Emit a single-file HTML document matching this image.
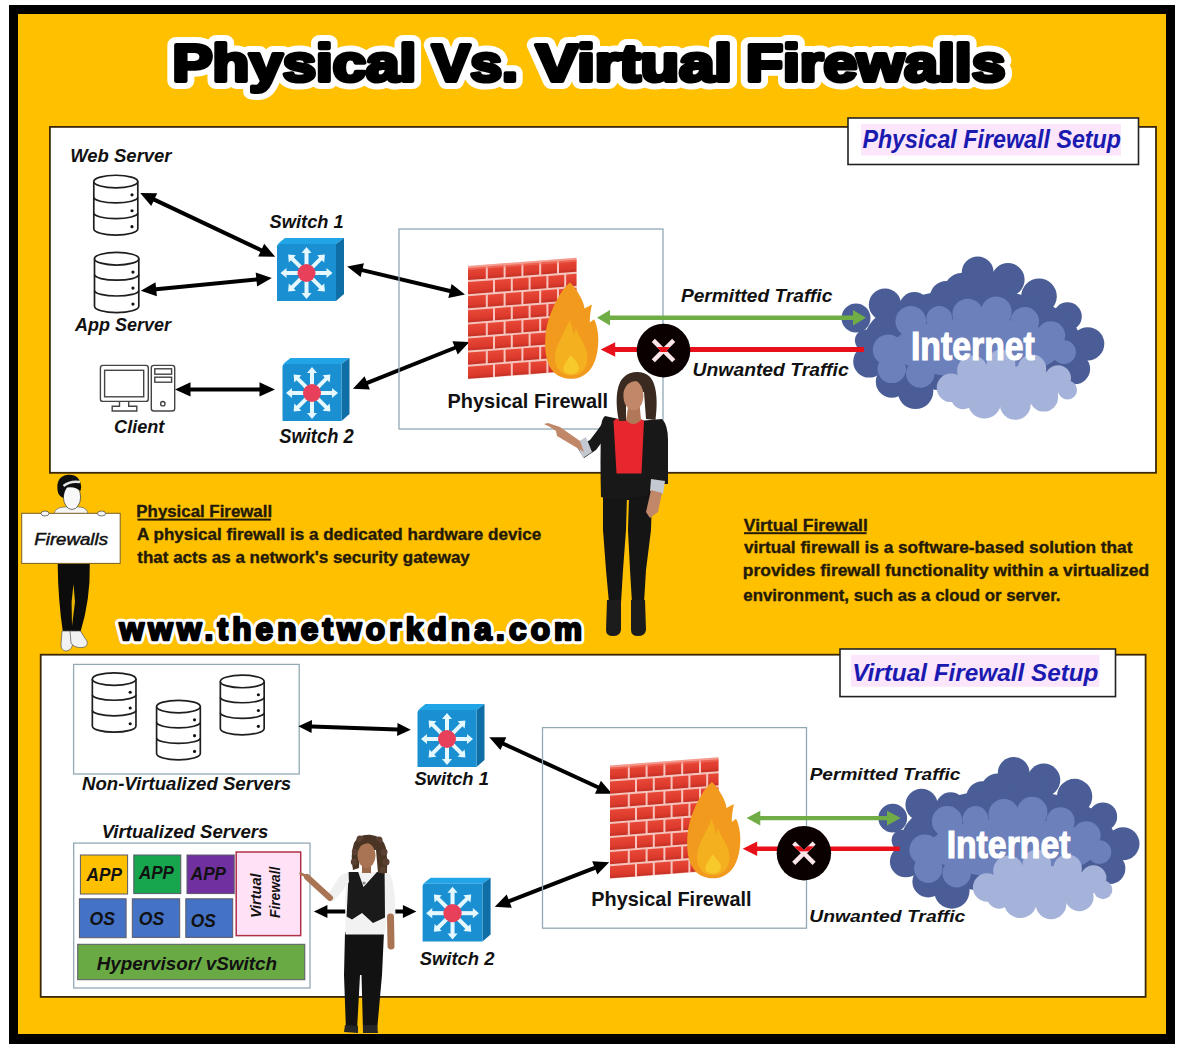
<!DOCTYPE html>
<html><head><meta charset="utf-8">
<style>
html,body{margin:0;padding:0;background:#fff;width:1179px;height:1044px;overflow:hidden}
svg{display:block}
text{font-family:"Liberation Sans",sans-serif}
.bi{font-weight:bold;font-style:italic}
.b{font-weight:bold}
.i{font-style:italic}
</style></head><body>
<svg width="1179" height="1044" viewBox="0 0 1179 1044">
<defs>
<!-- database icon 46x62 -->
<symbol id="db" viewBox="0 0 46 62" overflow="visible">
 <g fill="#fff" stroke="#1e1e1e" stroke-width="1.7">
  <path d="M0.85 7.2 V54.8 A22.15 6.35 0 0 0 45.15 54.8 V7.2"/>
  <ellipse cx="23" cy="7.2" rx="22.15" ry="6.35"/>
  <path d="M0.85 23.1 A22.15 5.6 0 0 0 45.15 23.1" fill="none"/>
  <path d="M0.85 38.9 A22.15 5.6 0 0 0 45.15 38.9" fill="none"/>
 </g>
 <g fill="#111"><circle cx="39.3" cy="20.6" r="1.6"/><circle cx="39.3" cy="36.6" r="1.6"/><circle cx="39.3" cy="52.6" r="1.6"/></g>
</symbol>
<!-- switch icon 67 x 63 -->
<symbol id="sw" viewBox="0 0 67 63" overflow="visible">
 <path d="M0 9 Q0 6 3 4 L8 0 H67 L59 6 H2 Z" fill="#22a5e6"/>
 <path d="M59 6 L67 0 V56 L59 63 Z" fill="#0f6ea6"/>
 <path d="M0 9 Q0 6 3 6 H59 V63 H0 Z" fill="#1a90d2"/>
 <g fill="#e6f8ff" id="arr">
  <g id="a1"><rect x="27.5" y="13" width="4" height="20"/><path d="M29.5 9 L34.5 15 H24.5 Z"/></g>
  <use href="#a1" transform="rotate(45 29.5 35)"/>
  <use href="#a1" transform="rotate(90 29.5 35)"/>
  <use href="#a1" transform="rotate(135 29.5 35)"/>
  <use href="#a1" transform="rotate(180 29.5 35)"/>
  <use href="#a1" transform="rotate(225 29.5 35)"/>
  <use href="#a1" transform="rotate(270 29.5 35)"/>
  <use href="#a1" transform="rotate(315 29.5 35)"/>
 </g>
 <circle cx="29.5" cy="35" r="9" fill="#e8405a"/>
</symbol>
<!-- firewall: wall + flame, local 0..132 x 0..122 -->
<linearGradient id="bg" x1="0" y1="0" x2="0" y2="1"><stop offset="0" stop-color="#e84838"/><stop offset="0.7" stop-color="#dc3a2c"/><stop offset="1" stop-color="#c23024"/></linearGradient>
<pattern id="brick" width="36" height="28" patternUnits="userSpaceOnUse" x="0" y="8.5">
 <rect width="36" height="28" fill="#f7cbc4"/>
 <rect x="2" y="2" width="16" height="12" fill="url(#bg)"/>
 <rect x="20" y="2" width="16" height="12" fill="url(#bg)"/>
 <rect x="0" y="16" width="9" height="12" fill="url(#bg)"/>
 <rect x="11" y="16" width="16" height="12" fill="url(#bg)"/>
 <rect x="29" y="16" width="7" height="12" fill="url(#bg)"/>
</pattern>
<symbol id="fw" viewBox="0 0 132 122" overflow="visible">
 <g transform="skewY(-4.4)">
<rect x="0" y="8.5" width="108.5" height="113.3" fill="#f6c4bc"/>
<rect x="0.0" y="10.5" width="17.8" height="12.1" fill="url(#bg)"/>
<rect x="19.8" y="10.5" width="15.8" height="12.1" fill="url(#bg)"/>
<rect x="37.6" y="10.5" width="15.8" height="12.1" fill="url(#bg)"/>
<rect x="55.4" y="10.5" width="15.8" height="12.1" fill="url(#bg)"/>
<rect x="73.2" y="10.5" width="15.8" height="12.1" fill="url(#bg)"/>
<rect x="91.0" y="10.5" width="17.5" height="12.1" fill="url(#bg)"/>
<rect x="0.0" y="24.6" width="25.0" height="12.1" fill="url(#bg)"/>
<rect x="27.0" y="24.6" width="15.8" height="12.1" fill="url(#bg)"/>
<rect x="44.8" y="24.6" width="15.8" height="12.1" fill="url(#bg)"/>
<rect x="62.6" y="24.6" width="15.8" height="12.1" fill="url(#bg)"/>
<rect x="80.4" y="24.6" width="15.8" height="12.1" fill="url(#bg)"/>
<rect x="98.2" y="24.6" width="10.3" height="12.1" fill="url(#bg)"/>
<rect x="0.0" y="38.7" width="17.8" height="12.1" fill="url(#bg)"/>
<rect x="19.8" y="38.7" width="15.8" height="12.1" fill="url(#bg)"/>
<rect x="37.6" y="38.7" width="15.8" height="12.1" fill="url(#bg)"/>
<rect x="55.4" y="38.7" width="15.8" height="12.1" fill="url(#bg)"/>
<rect x="73.2" y="38.7" width="15.8" height="12.1" fill="url(#bg)"/>
<rect x="91.0" y="38.7" width="17.5" height="12.1" fill="url(#bg)"/>
<rect x="0.0" y="52.8" width="25.0" height="12.1" fill="url(#bg)"/>
<rect x="27.0" y="52.8" width="15.8" height="12.1" fill="url(#bg)"/>
<rect x="44.8" y="52.8" width="15.8" height="12.1" fill="url(#bg)"/>
<rect x="62.6" y="52.8" width="15.8" height="12.1" fill="url(#bg)"/>
<rect x="80.4" y="52.8" width="15.8" height="12.1" fill="url(#bg)"/>
<rect x="98.2" y="52.8" width="10.3" height="12.1" fill="url(#bg)"/>
<rect x="0.0" y="66.9" width="17.8" height="12.1" fill="url(#bg)"/>
<rect x="19.8" y="66.9" width="15.8" height="12.1" fill="url(#bg)"/>
<rect x="37.6" y="66.9" width="15.8" height="12.1" fill="url(#bg)"/>
<rect x="55.4" y="66.9" width="15.8" height="12.1" fill="url(#bg)"/>
<rect x="73.2" y="66.9" width="15.8" height="12.1" fill="url(#bg)"/>
<rect x="91.0" y="66.9" width="17.5" height="12.1" fill="url(#bg)"/>
<rect x="0.0" y="81.0" width="25.0" height="12.1" fill="url(#bg)"/>
<rect x="27.0" y="81.0" width="15.8" height="12.1" fill="url(#bg)"/>
<rect x="44.8" y="81.0" width="15.8" height="12.1" fill="url(#bg)"/>
<rect x="62.6" y="81.0" width="15.8" height="12.1" fill="url(#bg)"/>
<rect x="80.4" y="81.0" width="15.8" height="12.1" fill="url(#bg)"/>
<rect x="98.2" y="81.0" width="10.3" height="12.1" fill="url(#bg)"/>
<rect x="0.0" y="95.1" width="17.8" height="12.1" fill="url(#bg)"/>
<rect x="19.8" y="95.1" width="15.8" height="12.1" fill="url(#bg)"/>
<rect x="37.6" y="95.1" width="15.8" height="12.1" fill="url(#bg)"/>
<rect x="55.4" y="95.1" width="15.8" height="12.1" fill="url(#bg)"/>
<rect x="73.2" y="95.1" width="15.8" height="12.1" fill="url(#bg)"/>
<rect x="91.0" y="95.1" width="17.5" height="12.1" fill="url(#bg)"/>
<rect x="0.0" y="109.2" width="25.0" height="12.1" fill="url(#bg)"/>
<rect x="27.0" y="109.2" width="15.8" height="12.1" fill="url(#bg)"/>
<rect x="44.8" y="109.2" width="15.8" height="12.1" fill="url(#bg)"/>
<rect x="62.6" y="109.2" width="15.8" height="12.1" fill="url(#bg)"/>
<rect x="80.4" y="109.2" width="15.8" height="12.1" fill="url(#bg)"/>
<rect x="98.2" y="109.2" width="10.3" height="12.1" fill="url(#bg)"/>
<path d="M0 8.5 H108.5 V12.5 H0 Z" fill="#f27868" opacity="0.55"/>
</g>
 <path d="M101.8 24.9 C96 30 92 36 88 44 C83 54 78 66 77.3 80.8 C76.5 96 79 108 86 115 C91 119.5 97 121.3 103 121.3 C111 121.3 118 118 123 111 C128 104 130.3 93 130.3 82 C130.3 74 128.5 66 126 61.8 L121.8 65 C121.5 58 123 52 123.9 47 L116.5 51 C116 45 112 38 108 32 C106 29 104 26.5 101.8 24.9 Z" fill="#f29a1e"/>
 <path d="M101.8 61.8 C97 75 87 88 87 100 C87 112 94 118 103 118 C112 118 119.5 112 119.5 100 C119.5 88 110 80 108 70 L106 78 C105 72 103 66 101.8 61.8 Z" fill="#f5b020"/>
 <path d="M102.8 97.5 C99 103 95.5 107 95.5 111 C95.5 114 98 116.5 103 116.5 C108 116.5 111 114 111 110 C111 106 106 102 102.8 97.5 Z" fill="#f7c92a"/>
</symbol>
<!-- cloud local 0..262 x 0..164 -->
<symbol id="cloud" viewBox="0 0 262 164" overflow="visible">
 <g fill="#4a5d96">
  <circle cx="14" cy="62" r="14.5"/><circle cx="43" cy="48.6" r="16.2"/><circle cx="72.3" cy="51" r="15"/>
  <circle cx="104.4" cy="41.5" r="16.6"/><circle cx="135.7" cy="16.6" r="16"/><circle cx="166" cy="23.7" r="16.6"/>
  <circle cx="197" cy="40.3" r="17.8"/><circle cx="225.5" cy="60.5" r="14.3"/><circle cx="245.7" cy="87.8" r="16.6"/>
  <circle cx="232.7" cy="112.8" r="15.4"/><circle cx="27.2" cy="105.6" r="16"/><circle cx="49.8" cy="125.8" r="16"/>
  <circle cx="73.5" cy="135.3" r="17.8"/><circle cx="23.6" cy="84.3" r="10.7"/>
  <circle cx="120" cy="35" r="18"/><circle cx="150" cy="38" r="20"/>
  <ellipse cx="130" cy="85" rx="108" ry="52"/>
 </g>
 <g fill="#6c80bb">
  <circle cx="46.2" cy="93.8" r="15.4"/><circle cx="68.8" cy="65.3" r="15.4"/><circle cx="97.3" cy="62.9" r="13"/>
  <circle cx="125.8" cy="58.1" r="15.4"/><circle cx="154.3" cy="55.8" r="15.4"/><circle cx="182.8" cy="65.3" r="14.3"/>
  <circle cx="208.9" cy="79.5" r="14.3"/><circle cx="222" cy="96.1" r="11.9"/><circle cx="49.8" cy="112.8" r="14.3"/>
  <circle cx="78.3" cy="117.5" r="14.3"/>
  <ellipse cx="135" cy="92" rx="85" ry="30"/>
 </g>
 <g fill="#a5b3da">
  <circle cx="109" cy="131.8" r="14.3"/><circle cx="130.5" cy="115" r="15.4"/><circle cx="159" cy="108" r="14.3"/>
  <circle cx="190" cy="112.8" r="14.3"/><circle cx="216" cy="122.3" r="13"/><circle cx="225.5" cy="134" r="9.5"/>
  <circle cx="142.4" cy="146" r="16.6"/><circle cx="173.3" cy="148.4" r="15.4"/><circle cx="201.8" cy="141.3" r="14.3"/>
  <circle cx="121" cy="141.3" r="11.9"/>
  <ellipse cx="165" cy="130" rx="55" ry="20"/>
 </g>
</symbol>
<marker id="ah" viewBox="0 0 10 10" refX="9" refY="5" markerWidth="4.4" markerHeight="4" orient="auto-start-reverse" markerUnits="strokeWidth">
 <path d="M0 0 L10 5 L0 10 Z" fill="#000"/>
</marker>
</defs>
<rect x="0" y="0" width="1179" height="1044" fill="#fff"/>
<rect x="9" y="5" width="1166" height="1039" fill="#000"/>
<rect x="18" y="14" width="1148" height="1020" fill="#FFC000"/>
<!-- top panel -->
<rect x="49.9" y="126.9" width="1106.1" height="345.9" fill="#fff" stroke="#3a2808" stroke-width="1.8"/>
<!-- bottom panel -->
<rect x="40.7" y="654.7" width="1104.9" height="342.2" fill="#fff" stroke="#3a2808" stroke-width="1.8"/>
<text x="172.59" y="81.3" font-size="52.5" class="b" fill="#fff" textLength="243.56" lengthAdjust="spacingAndGlyphs" stroke="#fff" stroke-width="16" stroke-linejoin="round">Physical</text>
<text x="432.01" y="81.3" font-size="52.5" class="b" fill="#fff" textLength="85.83" lengthAdjust="spacingAndGlyphs" stroke="#fff" stroke-width="16" stroke-linejoin="round">Vs.</text>
<text x="536.07" y="81.3" font-size="52.5" class="b" fill="#fff" textLength="195.89" lengthAdjust="spacingAndGlyphs" stroke="#fff" stroke-width="16" stroke-linejoin="round">Virtual</text>
<text x="745.94" y="81.3" font-size="52.5" class="b" fill="#fff" textLength="259.44" lengthAdjust="spacingAndGlyphs" stroke="#fff" stroke-width="16" stroke-linejoin="round">Firewalls</text>
<text x="172.59" y="81.3" font-size="52.5" class="b" fill="#000" textLength="243.56" lengthAdjust="spacingAndGlyphs" stroke="#000" stroke-width="4.2" stroke-linejoin="round">Physical</text>
<text x="432.01" y="81.3" font-size="52.5" class="b" fill="#000" textLength="85.83" lengthAdjust="spacingAndGlyphs" stroke="#000" stroke-width="4.2" stroke-linejoin="round">Vs.</text>
<text x="536.07" y="81.3" font-size="52.5" class="b" fill="#000" textLength="195.89" lengthAdjust="spacingAndGlyphs" stroke="#000" stroke-width="4.2" stroke-linejoin="round">Virtual</text>
<text x="745.94" y="81.3" font-size="52.5" class="b" fill="#000" textLength="259.44" lengthAdjust="spacingAndGlyphs" stroke="#000" stroke-width="4.2" stroke-linejoin="round">Firewalls</text>
<rect x="848" y="118" width="290.5" height="46.5" fill="#fff" stroke="#222" stroke-width="1.6"/>
<rect x="861" y="124" width="260" height="31.5" fill="#fbe6fb"/>
<text x="862.39" y="148.1" font-size="25.15" class="bi" fill="#1a1ab0" textLength="258.66" lengthAdjust="spacingAndGlyphs" >Physical Firewall Setup</text>
<text x="70.25" y="161.6" font-size="18.75" class="bi" fill="#111" textLength="101.31" lengthAdjust="spacingAndGlyphs" >Web Server</text>
<use href="#db" x="92.9" y="174.4" width="45.8" height="61.6"/>
<use href="#db" x="93.4" y="251.5" width="46.5" height="62"/>
<text x="75.07" y="330.7" font-size="18.6" class="bi" fill="#111" textLength="95.82" lengthAdjust="spacingAndGlyphs" >App Server</text>
<text x="269.58" y="227.9" font-size="19.04" class="bi" fill="#111" textLength="74.1" lengthAdjust="spacingAndGlyphs" >Switch 1</text>
<use href="#sw" x="277" y="238" width="67" height="63"/>
<use href="#sw" x="282.5" y="358" width="67" height="63"/>
<text x="279.28" y="442.7" font-size="19.48" class="bi" fill="#111" textLength="74.41" lengthAdjust="spacingAndGlyphs" >Switch 2</text>
<g fill="none" stroke="#444" stroke-width="1.4">
 <rect x="100.4" y="365.4" width="47.9" height="36" rx="2.5"/>
 <rect x="104.6" y="370.3" width="39.1" height="26.5"/>
 <path d="M119.5 401.4 V406.2 H112.2 V411 H136.8 V406.2 H128.7 V401.4"/>
 <rect x="151.3" y="365.4" width="23.4" height="45.6" rx="2.5"/>
 <rect x="154.8" y="368.8" width="16.8" height="5.4"/>
 <rect x="154.8" y="377.2" width="16.8" height="5.0"/>
 <circle cx="162.8" cy="403.7" r="2.2"/>
</g>
<text x="114.12" y="433.2" font-size="18.46" class="bi" fill="#111" textLength="50.27" lengthAdjust="spacingAndGlyphs" >Client</text>
<path d="M140.2 193.0 L151.2 206.0 L153.4 201.4 L260.3 252.0 L258.2 256.6 L275.2 256.8 L264.2 243.8 L262.0 248.4 L155.1 197.8 L157.2 193.2 Z" fill="#000"/>
<path d="M140.8 290.8 L156.9 296.3 L156.4 291.3 L256.6 281.4 L257.1 286.5 L271.8 277.9 L255.7 272.4 L256.2 277.4 L156.0 287.3 L155.5 282.2 Z" fill="#000"/>
<path d="M175.0 389.4 L190.5 396.5 L190.5 391.4 L259.5 391.4 L259.5 396.5 L275.0 389.4 L259.5 382.3 L259.5 387.4 L190.5 387.4 L190.5 382.3 Z" fill="#000"/>
<path d="M347.2 266.5 L360.6 277.0 L361.8 272.0 L449.5 292.9 L448.3 297.9 L465.0 294.6 L451.6 284.1 L450.4 289.1 L362.7 268.2 L363.9 263.2 Z" fill="#000"/>
<path d="M352.9 388.7 L369.9 389.5 L368.0 384.8 L455.8 349.6 L457.7 354.4 L469.4 342.0 L452.4 341.2 L454.3 345.9 L366.5 381.1 L364.6 376.3 Z" fill="#000"/>
<rect x="399" y="229" width="264" height="200" fill="none" stroke="#93aab6" stroke-width="1.3"/>
<use href="#fw" x="468" y="257.5" width="132" height="122"/>
<text x="447.57" y="407.6" font-size="20.64" class="b" fill="#111" textLength="160.54" lengthAdjust="spacingAndGlyphs" >Physical Firewall</text>
<use href="#cloud" x="842" y="256" width="262" height="164"/>
<text x="910.94" y="360" font-size="40.7" class="b" fill="#fff" textLength="123.87" lengthAdjust="spacingAndGlyphs" stroke="#fff" stroke-width="1.2">Internet</text>
<path d="M597.0 317.7 L610.0 325.4 L610.0 320.0 L853.0 320.0 L853.0 325.4 L866.0 317.7 L853.0 310.0 L853.0 315.4 L610.0 315.4 L610.0 310.0 Z" fill="#70ad47"/>
<path d="M600.7 349.5 L615.2 356.7 L615.2 351.9 L864.0 351.9 L864.0 347.1 L615.2 347.1 L615.2 342.3 Z" fill="#e8101a"/>
<text x="680.97" y="302.2" font-size="18.17" class="bi" fill="#111" textLength="151.31" lengthAdjust="spacingAndGlyphs" >Permitted Traffic</text>
<text x="692.58" y="375.6" font-size="18.31" class="bi" fill="#111" textLength="156.1" lengthAdjust="spacingAndGlyphs" >Unwanted Traffic</text>
<circle cx="663.5" cy="350.6" r="26.8" fill="#0a0000"/><clipPath id="xc1"><path d="M651.74 341.96 L672.14 362.36 L675.26 359.24 L654.86 338.84 Z M672.14 338.84 L651.74 359.24 L654.86 362.36 L675.26 341.96 Z"/></clipPath><path d="M651.74 341.96 L672.14 362.36 L675.26 359.24 L654.86 338.84 Z M672.14 338.84 L651.74 359.24 L654.86 362.36 L675.26 341.96 Z" fill="#fde6ea"/><rect x="649.3" y="347.0" width="28.4" height="5" fill="#e8101a" clip-path="url(#xc1)"/>
<text x="136.37" y="517" font-size="15.7" class="b" fill="#241a08" textLength="135.72" lengthAdjust="spacingAndGlyphs" stroke="#241a08" stroke-width="0.35">Physical Firewall</text>
<rect x="137.5" y="518.6" width="133.4" height="2" fill="#241a08"/>
<text x="137.08" y="539.8" font-size="15.7" class="b" fill="#241a08" textLength="404.11" lengthAdjust="spacingAndGlyphs" stroke="#241a08" stroke-width="0.35">A physical firewall is a dedicated hardware device</text>
<text x="137.29" y="562.5" font-size="15.7" class="b" fill="#241a08" textLength="332.5" lengthAdjust="spacingAndGlyphs" stroke="#241a08" stroke-width="0.35">that acts as a network&#39;s security gateway</text>
<text x="743.88" y="530.5" font-size="15.7" class="b" fill="#241a08" textLength="123.95" lengthAdjust="spacingAndGlyphs" stroke="#241a08" stroke-width="0.35">Virtual Firewall</text>
<rect x="744" y="532.2" width="122.6" height="2" fill="#241a08"/>
<text x="743.93" y="552.9" font-size="15.7" class="b" fill="#241a08" textLength="388.48" lengthAdjust="spacingAndGlyphs" stroke="#241a08" stroke-width="0.35">virtual firewall is a software-based solution that</text>
<text x="742.85" y="576.2" font-size="15.7" class="b" fill="#241a08" textLength="406.3" lengthAdjust="spacingAndGlyphs" stroke="#241a08" stroke-width="0.35">provides firewall functionality within a virtualized</text>
<text x="743.34" y="600.5" font-size="15.7" class="b" fill="#241a08" textLength="317.21" lengthAdjust="spacingAndGlyphs" stroke="#241a08" stroke-width="0.35">environment, such as a cloud or server.</text>
<text x="119.6" y="640" font-size="31.5" class="b" fill="#fff" stroke="#fff" stroke-width="8.5" stroke-linejoin="round" textLength="462.5" lengthAdjust="spacing">www.thenetworkdna.com</text>
<text x="119.6" y="640" font-size="31.5" class="b" fill="#000" stroke="#000" stroke-width="2.4" stroke-linejoin="round" textLength="462.5" lengthAdjust="spacing">www.thenetworkdna.com</text>
<g id="cartoon">
 <path d="M57.7 563.8 L89.8 563.8 Q90.5 600 80.2 633 L70 633 L63 633 Q58 600 57.7 563.8 Z" fill="#0c0c0c"/>
 <path d="M73.5 584 L75 602 L72 626 L71.6 602 Z" fill="#e8b400"/>
 <path d="M62 631 L72 631 L72.5 645 Q71 651 65.5 651 Q60.5 650 61 644 Z" fill="#f2f2f2" stroke="#555" stroke-width="0.7"/>
 <path d="M70 631 L80.5 631 Q84 637 87 641 Q88.5 647 82 647.6 Q74 648 71 643 Z" fill="#f2f2f2" stroke="#555" stroke-width="0.7"/>
 <path d="M54 514 Q55 507.5 64 507 L80 507 Q87 507.5 88 514 Z" fill="#f6f6f6" stroke="#555" stroke-width="0.6"/>
 <rect x="68" y="502" width="9" height="7" fill="#f6f6f6"/>
 <ellipse cx="72" cy="497" rx="8.6" ry="12.5" fill="#f8f8f8" stroke="#333" stroke-width="0.7"/>
 <path d="M57.5 490 Q56 476 68 474.8 Q80 474 81.2 487 L80.5 491 Q75 486 67 487.5 Q63.5 492 63.5 498 Q58 496 57.5 490 Z" fill="#0e0e0e"/>
 <path d="M63.5 486 Q70 480.5 80 482" stroke="#e6e6e6" stroke-width="2.4" fill="none"/>
 <rect x="21.7" y="513.3" width="98.5" height="50.1" fill="#fff" stroke="#7a6020" stroke-width="1"/>
 <ellipse cx="45" cy="513.5" rx="4" ry="2.5" fill="#f4f4f4" stroke="#444" stroke-width="0.7"/>
 <ellipse cx="101.5" cy="513.5" rx="4" ry="2.5" fill="#f4f4f4" stroke="#444" stroke-width="0.7"/>
</g>
<text x="34.33" y="545.4" font-size="16.72" class="i" fill="#111" textLength="73.66" lengthAdjust="spacingAndGlyphs" stroke="#111" stroke-width="0.5">Firewalls</text>
<g id="woman1">
 <path d="M603 496 L627 496 L626 530 L623 570 L621 603 L609 603 L606 570 L603 530 Z" fill="#151515"/>
 <path d="M629 496 L652 496 L651 530 L646 570 L644 603 L632 603 L630 570 L628 530 Z" fill="#151515"/>
 <path d="M607 600 L621 600 L621 630 Q620 636 613 636 Q606 636 606 630 Z" fill="#1c1c1c"/>
 <path d="M631 600 L645 600 L646 630 Q645 636 638 636 Q631 636 631 630 Z" fill="#1c1c1c"/>
 <path d="M612 470 L652 470 L652 500 L612 500 Z" fill="#141414"/>
 <path d="M605 416 L628 421 L633 440 L638 421 L662 419 Q668 425 668 440 L668 484 L650 484 L648 496 L614 500 L601 497 Q600 460 601 430 Q601 419 605 416 Z" fill="#181818"/>
 <path d="M616 419 L626 419 Q633 427 641 419 L644 421 L641.5 473.5 L616.5 473.5 L613.5 421 Z" fill="#e8262e"/>
 <path d="M606 418 Q598 430 590 440 L577 447 L584 458 L596 450 Q604 440 610 430 Z" fill="#181818"/>
 <path d="M576 443 L586 437 L592 452 L583 458 Z" fill="#c4c8d0"/>
 <path d="M580 441 L560 427 L548 423 L544 424 L550 427 L556 431 L557 436 L584 452 Z" fill="#c08868"/>
 <path d="M651 479 L665 481 L663 494 L650 491 Z" fill="#c4c8d0"/>
 <path d="M651 490 L662 493 L658 512 L650 518 L646 512 Z" fill="#c08868"/>
 <path d="M619 421 C615 402 616 384 624 377 C630 371 642 370 649 376 C657 383 658 402 655.5 420 L646 419 L644 392 L626 392 L626 421 Z" fill="#3b2a20"/>
 <path d="M628.5 404 L639.5 404 L641 420 Q633 428 626 420 Z" fill="#b07858"/>
 <ellipse cx="633.4" cy="395.5" rx="10" ry="15" fill="#c08868"/>
 <path d="M623 392 Q626 378 636 377 Q646 378 648 392 Q646 381 636 381 Q627 381 623 392 Z" fill="#3b2a20"/>
</g>
<rect x="840" y="649" width="275.5" height="47.6" fill="#fff" stroke="#222" stroke-width="1.6"/>
<rect x="851" y="654.8" width="248.4" height="32" fill="#fbe6fb"/>
<text x="852.18" y="680.7" font-size="23.98" class="bi" fill="#1a1ab0" textLength="246.3" lengthAdjust="spacingAndGlyphs" >Virtual Firewall Setup</text>
<rect x="73.6" y="664.4" width="225.6" height="109.6" fill="none" stroke="#93aab6" stroke-width="1.3"/>
<use href="#db" x="91.5" y="671" width="45.3" height="63"/>
<use href="#db" x="155.7" y="699.5" width="45.5" height="61.2"/>
<use href="#db" x="219.5" y="674" width="45.5" height="62"/>
<text x="81.97" y="790" font-size="18.02" class="bi" fill="#111" textLength="209.26" lengthAdjust="spacingAndGlyphs" >Non-Virtualized Servers</text>
<path d="M298.3 726.2 L311.6 733.1 L311.7 728.6 L397.2 731.4 L397.1 735.9 L410.8 729.8 L397.5 722.9 L397.4 727.4 L311.9 724.6 L312.0 720.1 Z" fill="#000"/>
<use href="#sw" x="417" y="704" width="68" height="63"/>
<text x="414.38" y="784.6" font-size="18.9" class="bi" fill="#111" textLength="74.51" lengthAdjust="spacingAndGlyphs" >Switch 1</text>
<text x="101.65" y="837.7" font-size="18.02" class="bi" fill="#111" textLength="166.68" lengthAdjust="spacingAndGlyphs" >Virtualized Servers</text>
<rect x="73.7" y="843.1" width="236.3" height="144.9" fill="none" stroke="#93aab6" stroke-width="1.3"/>
<rect x="80.4" y="855" width="47.2" height="39" fill="#ffc000" stroke="#5a5a6a" stroke-width="1"/>
<rect x="133.8" y="855" width="47" height="38.6" fill="#17a54e" stroke="#5a5a6a" stroke-width="1"/>
<rect x="187" y="855" width="47.2" height="38.6" fill="#7030a0" stroke="#5a5a6a" stroke-width="1"/>
<rect x="79.4" y="898.8" width="46.7" height="38.9" fill="#4472c4" stroke="#5a5a6a" stroke-width="1"/>
<rect x="132.3" y="898.8" width="47.4" height="38.6" fill="#4472c4" stroke="#5a5a6a" stroke-width="1"/>
<rect x="185.8" y="898.8" width="46.9" height="38.6" fill="#4472c4" stroke="#5a5a6a" stroke-width="1"/>
<rect x="236.2" y="852" width="64.5" height="83.6" fill="#ffe2f6" stroke="#b03048" stroke-width="1.5"/>
<rect x="77.7" y="944.3" width="227.1" height="35.4" fill="#6aaa44" stroke="#5a5a6a" stroke-width="1"/>
<text x="86.55" y="880.5" font-size="18.17" class="bi" fill="#111" textLength="35.42" lengthAdjust="spacingAndGlyphs" >APP</text>
<text x="138.95" y="879" font-size="18.17" class="bi" fill="#111" textLength="34.93" lengthAdjust="spacingAndGlyphs" >APP</text>
<text x="190.85" y="879.5" font-size="18.17" class="bi" fill="#111" textLength="35.03" lengthAdjust="spacingAndGlyphs" >APP</text>
<text x="89.54" y="925.2" font-size="18.17" class="bi" fill="#111" textLength="25.34" lengthAdjust="spacingAndGlyphs" >OS</text>
<text x="138.74" y="924.5" font-size="18.17" class="bi" fill="#111" textLength="25.34" lengthAdjust="spacingAndGlyphs" >OS</text>
<text x="190.76" y="927" font-size="18.17" class="bi" fill="#111" textLength="24.92" lengthAdjust="spacingAndGlyphs" >OS</text>
<text x="96.67" y="969.9" font-size="18.17" class="bi" fill="#111" textLength="180.32" lengthAdjust="spacingAndGlyphs" >Hypervisor/ vSwitch</text>
<g transform="rotate(-90)"><text x="-918.1" y="261.3" font-size="14.83" class="bi" fill="#111" textLength="44.65" lengthAdjust="spacingAndGlyphs" >Virtual</text><text x="-918.04" y="280" font-size="14.83" class="bi" fill="#111" textLength="51.41" lengthAdjust="spacingAndGlyphs" >Firewall</text></g>
<path d="M313.9 911.5 L327.4 918.0 L327.4 913.5 L402.9 913.5 L402.9 918.0 L416.4 911.5 L402.9 905.0 L402.9 909.5 L327.4 909.5 L327.4 905.0 Z" fill="#000"/>
<use href="#sw" x="422.6" y="877.6" width="68" height="64"/>
<text x="419.78" y="964.5" font-size="18.31" class="bi" fill="#111" textLength="74.71" lengthAdjust="spacingAndGlyphs" >Switch 2</text>
<path d="M489.3 737.2 L500.4 750.1 L502.5 745.5 L597.1 789.0 L595.0 793.7 L612.0 793.7 L600.9 780.8 L598.8 785.4 L504.2 741.9 L506.3 737.2 Z" fill="#000"/>
<path d="M494.8 906.8 L511.8 907.8 L510.0 903.0 L595.5 869.8 L597.3 874.5 L609.2 862.3 L592.2 861.3 L594.0 866.1 L508.5 899.3 L506.7 894.6 Z" fill="#000"/>
<rect x="542.5" y="727.6" width="264" height="200.6" fill="none" stroke="#93aab6" stroke-width="1.3"/>
<use href="#fw" x="610" y="757" width="132" height="122"/>
<text x="591.27" y="905.9" font-size="20.64" class="b" fill="#111" textLength="160.24" lengthAdjust="spacingAndGlyphs" >Physical Firewall</text>
<use href="#cloud" x="878" y="756.5" width="262" height="163"/>
<text x="946.64" y="858.3" font-size="39.24" class="b" fill="#fff" textLength="123.77" lengthAdjust="spacingAndGlyphs" stroke="#fff" stroke-width="1.2">Internet</text>
<path d="M746.6 818.1 L760.3 825.4 L760.3 820.3 L887.0 820.3 L887.0 825.4 L900.7 818.1 L887.0 810.8 L887.0 815.9 L760.3 815.9 L760.3 810.8 Z" fill="#70ad47"/>
<path d="M742.7 848.8 L757.2 856.0 L757.2 851.1 L899.7 851.1 L899.7 846.4 L757.2 846.4 L757.2 841.6 Z" fill="#e8101a"/>
<text x="809.67" y="779.5" font-size="17.01" class="bi" fill="#111" textLength="150.81" lengthAdjust="spacingAndGlyphs" >Permitted Traffic</text>
<text x="809.28" y="921.9" font-size="17.01" class="bi" fill="#111" textLength="156.0" lengthAdjust="spacingAndGlyphs" >Unwanted Traffic</text>
<circle cx="803.9" cy="853.2" r="27.2" fill="#0a0000"/><clipPath id="xc2"><path d="M792.14 844.56 L812.54 864.96 L815.66 861.84 L795.26 841.44 Z M812.54 841.44 L792.14 861.84 L795.26 864.96 L815.66 844.56 Z"/></clipPath><path d="M792.14 844.56 L812.54 864.96 L815.66 861.84 L795.26 841.44 Z M812.54 841.44 L792.14 861.84 L795.26 864.96 L815.66 844.56 Z" fill="#fde6ea"/><rect x="789.6999999999999" y="846.3" width="28.4" height="5" fill="#e8101a" clip-path="url(#xc2)"/>
<g id="woman2">
 <path d="M345 932 L384 932 L382 975 L377 1031 L363 1031 L361.5 975 L360 975 L357 1031 L346 1031 L344 975 Z" fill="#121212"/>
 <path d="M345 1025 L358 1026 L358 1033 L344 1032 Z M363 1025 L377 1025 L378 1033 L363 1033 Z" fill="#262626"/>
 <path d="M347 872 L386 872 L388 900 L385 934.5 L345.5 934.5 L345 900 Z" fill="#f2f2f2"/>
 <path d="M348.7 872 L358.2 872 L363.5 887 L377 872 L385.6 872 L385 917.5 L373 923 L362 913 L352 919.6 L346.6 916.4 Z" fill="#1a1a1a"/>
 <circle cx="364" cy="883" r="1.6" fill="#888"/>
 <path d="M348 872 Q340 874 336 882 L327 896 L333 902 L343 890 L349 882 Z" fill="#f0f0f0"/>
 <path d="M330 898 L307 877" stroke="#a87454" stroke-width="6" stroke-linecap="round"/>
 <path d="M306 876 L300.5 873.5" stroke="#a87454" stroke-width="2.6" stroke-linecap="round"/>
 <path d="M384.6 872 L390 874 Q395 885 395.5 915 L385 916.5 Z" fill="#f0f0f0"/>
 <path d="M390.5 917 L391 946" stroke="#a87454" stroke-width="7" stroke-linecap="round"/>
 <path d="M353 870 Q350 855 354 843 Q358 834 370 834.7 Q383 836 386 848 Q388 860 387 873 L378 873 L376 850 L360 850 L359 868 Z" fill="#4a3424"/>
 <g fill="#5a4030"><circle cx="384" cy="852" r="3.5"/><circle cx="386" cy="862" r="3.5"/><circle cx="383" cy="870" r="3.5"/><circle cx="355" cy="852" r="3.2"/><circle cx="354" cy="862" r="3.2"/><circle cx="379" cy="840" r="3.5"/><circle cx="360" cy="839" r="3.5"/></g>
 <rect x="362" y="862" width="9" height="11" fill="#9a6848"/>
 <ellipse cx="366.5" cy="855.5" rx="9" ry="12.5" fill="#a87454"/>
 <path d="M356 851 Q359 838 370 838 Q381 839 382 851 Q376 842 368 843 Q360 844 356 851 Z" fill="#4a3424"/>
</g>
</svg>
</body></html>
